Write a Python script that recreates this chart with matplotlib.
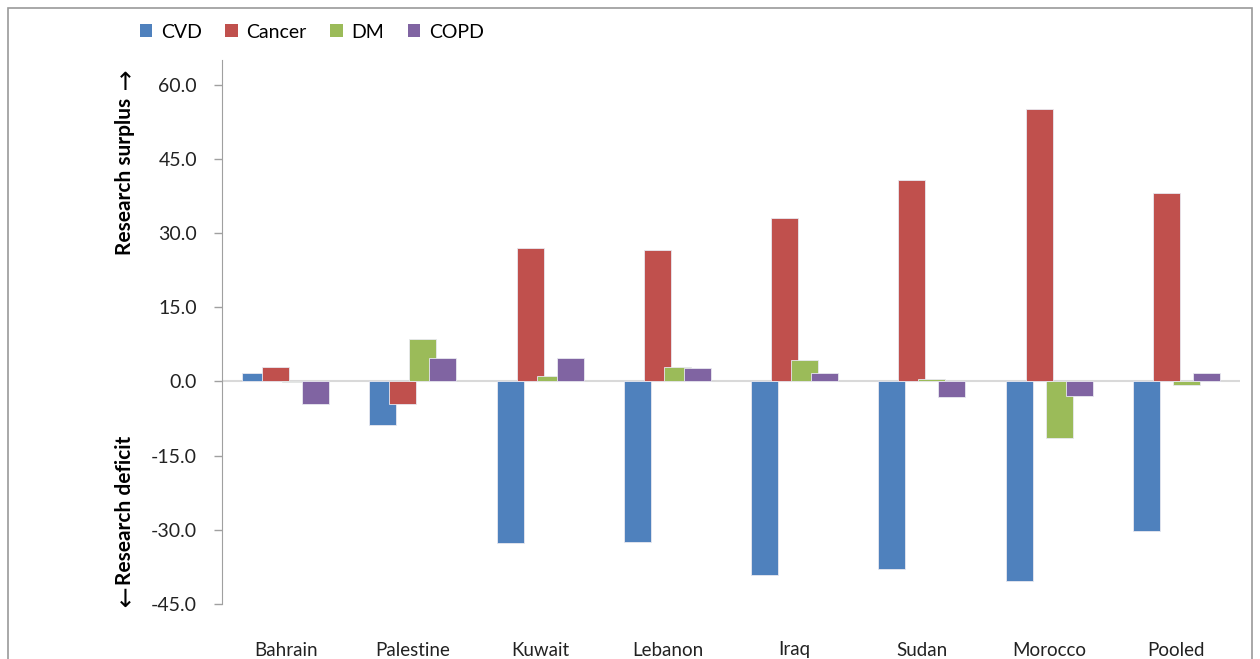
import numpy as np
import matplotlib
matplotlib.use("Agg")
import matplotlib.pyplot as plt
from matplotlib.patches import Rectangle, Patch

plt.rcParams['font.family'] = ['Lato', 'DejaVu Sans']

countries = ['Bahrain', 'Palestine', 'Kuwait', 'Lebanon', 'Iraq', 'Sudan', 'Morocco', 'Pooled']
series = ['CVD', 'Cancer', 'DM', 'COPD']
colors = ['#4F81BD', '#C0504D', '#9BBB59', '#8064A2']

cvd = [1.8, -8.9, -32.7, -32.5, -39.2, -38.0, -40.4, -30.3]
cancer = [3.0, -4.6, 26.9, 26.5, 33.1, 40.8, 55.0, 38.2]
dm = [-0.1, 8.5, 1.2, 3.0, 4.4, 0.5, -11.5, -0.8]
copd = [-4.6, 4.8, 4.8, 2.8, 1.7, -3.2, -3.0, 1.8]
values = [cvd, cancer, dm, copd]

yticks = [-45, -30, -15, 0, 15, 30, 45, 60]

fig = plt.figure(figsize=(12.6, 6.59), dpi=100)
ax = fig.add_axes([222/1260, 1-604/659, (1240-222)/1260, (604-60)/659])

x = np.arange(len(countries))
step, width = 0.157, 0.212
for i, (name, vals, c) in enumerate(zip(series, values, colors)):
    ax.bar(x + (i - 1.5) * step, vals, width=width, color=c,
           edgecolor='#e8e8f0', linewidth=0.6, label=name, zorder=2 + i)

ax.axhline(0, color='#d9d9d9', linewidth=1.5, zorder=1)
ax.set_xlim(-0.5, len(countries) - 0.5)
ax.set_ylim(-45, 65)
ax.set_yticks(yticks)
ax.set_yticklabels([f'{v:.1f}' for v in yticks], fontsize=14, color='#222222')
ax.set_xticks(x)
ax.set_xticklabels(countries, fontsize=13.5, color='#222222')
ax.tick_params(axis='x', length=0, pad=27)
ax.tick_params(axis='y', length=6, width=1, color='#a0a0a0', pad=12)

for s in ['top', 'right', 'bottom']:
    ax.spines[s].set_visible(False)
ax.spines['left'].set_color('#a0a0a0')
ax.spines['left'].set_bounds(-45, 65)

# axis titles on either side of zero
fig.text(125/1260, 1-176/659, 'Research surplus', rotation=90, fontsize=15,
         fontweight='bold', ha='center', va='center')
fig.text(125/1260, 1-510/659, 'Research deficit', rotation=90, fontsize=15,
         fontweight='bold', ha='center', va='center')
fig.text(125/1260, 1-83/659, '\u2191', fontsize=18, ha='center', va='center',
         family='DejaVu Sans')
fig.text(125/1260, 1-600/659, '\u2193', fontsize=18, ha='center', va='center',
         family='DejaVu Sans')

handles = [Patch(facecolor=c, edgecolor='none') for c in colors]
fig.legend(handles, series, loc='center left', bbox_to_anchor=(122/1260, 1-32/659),
           ncol=4, frameon=False, fontsize=14, handlelength=0.65, handleheight=0.65,
           handletextpad=0.45, columnspacing=1.2)

fig.patches.append(Rectangle((8/1260, -0.05), 1244/1260, 1 - 8/659 + 0.05,
                             transform=fig.transFigure, fill=False,
                             edgecolor='#9a9a9a', linewidth=1.2))

fig.savefig('out.png', dpi=100, facecolor='white')
